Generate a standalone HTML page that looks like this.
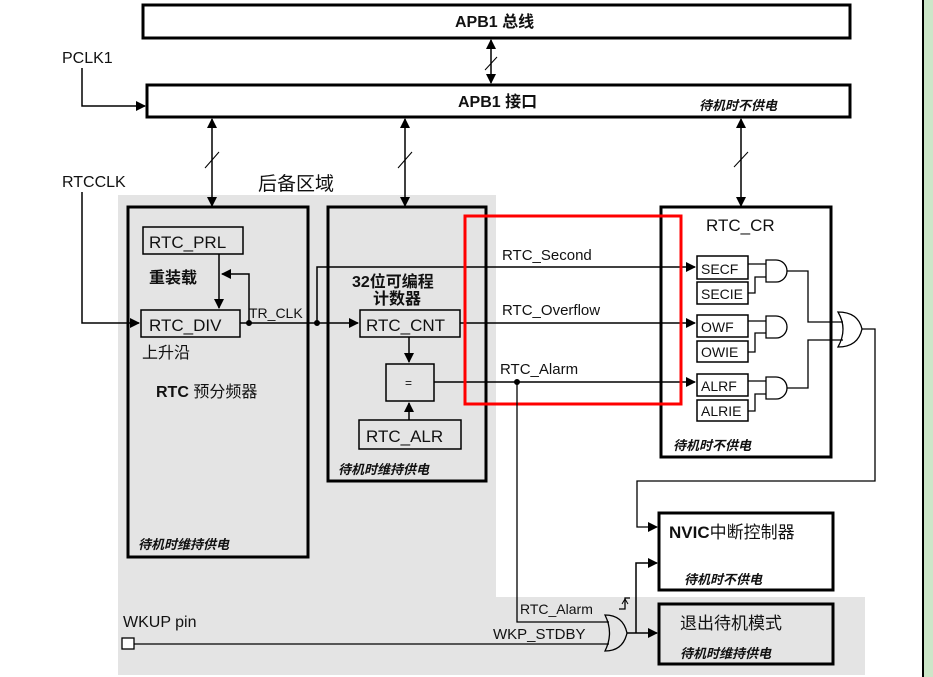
<!DOCTYPE html>
<html><head><meta charset="utf-8"><style>
html,body{margin:0;padding:0;background:#fff;}
svg{display:block;}
text{font-family:"Liberation Sans","Noto Sans CJK SC",sans-serif;fill:#111;}
.it{font-style:italic;font-weight:bold;font-size:13px;}
</style></head><body>
<svg width="933" height="677" viewBox="0 0 933 677" xmlns="http://www.w3.org/2000/svg">
<defs>
<marker id="a" markerWidth="10" markerHeight="10" refX="9" refY="5" orient="auto-start-reverse" markerUnits="userSpaceOnUse"><path d="M0,0 L10,5 L0,10 z" fill="#000"/></marker>
</defs>
<path d="M118,195 H496 V597 H865 V675 H118 Z" fill="#e4e4e4"/>
<rect x="924" y="0" width="9" height="677" fill="#cce6c8"/>
<line x1="923" y1="0" x2="923" y2="677" stroke="#000" stroke-width="2"/>

<g fill="none" stroke="#000">
<rect x="143" y="5" width="707" height="33" fill="#fff" stroke-width="3"/>
<rect x="147" y="85" width="703" height="32" fill="#fff" stroke-width="3"/>
<line x1="491" y1="40" x2="491" y2="83" stroke-width="1.5" marker-start="url(#a)" marker-end="url(#a)"/>
<line x1="485" y1="70" x2="497" y2="57"/>
<path d="M82,68 V106 H145" stroke-width="1.5" marker-end="url(#a)"/>
<line x1="212" y1="119" x2="212" y2="206" stroke-width="1.5" marker-start="url(#a)" marker-end="url(#a)"/>
<line x1="205" y1="168" x2="219" y2="152"/>
<line x1="405" y1="119" x2="405" y2="206" stroke-width="1.5" marker-start="url(#a)" marker-end="url(#a)"/>
<line x1="398" y1="168" x2="412" y2="152"/>
<line x1="741" y1="119" x2="741" y2="206" stroke-width="1.5" marker-start="url(#a)" marker-end="url(#a)"/>
<line x1="734" y1="167" x2="748" y2="152"/>
<rect x="128" y="207" width="180" height="350" stroke-width="3"/>
<rect x="143" y="227" width="100" height="27" stroke-width="1.5"/>
<rect x="141" y="310" width="99" height="27" stroke-width="1.5"/>
<path d="M82,192 V323 H139" stroke-width="1.5" marker-end="url(#a)"/>
<line x1="219" y1="254" x2="219" y2="308" stroke-width="1.5" marker-end="url(#a)"/>
<path d="M249,323 V274 H222" stroke-width="1.5" marker-end="url(#a)"/>
<rect x="328" y="207" width="158" height="274" stroke-width="3"/>
<rect x="360" y="310" width="100" height="27" stroke-width="1.5"/>
<rect x="386" y="364" width="48" height="37" stroke-width="1.5"/>
<rect x="359" y="420" width="102" height="29" stroke-width="1.5"/>
<line x1="240" y1="323" x2="358" y2="323" stroke-width="1.5" marker-end="url(#a)"/>
<path d="M317,323 V267 H695" stroke-width="1.5" marker-end="url(#a)"/>
<line x1="460" y1="323" x2="695" y2="323" stroke-width="1.5" marker-end="url(#a)"/>
<line x1="434" y1="382" x2="695" y2="382" stroke-width="1.5" marker-end="url(#a)"/>
<line x1="409" y1="337" x2="409" y2="362" stroke-width="1.5" marker-end="url(#a)"/>
<line x1="409" y1="420" x2="409" y2="403" stroke-width="1.5" marker-end="url(#a)"/>
<rect x="661" y="207" width="170" height="250" stroke-width="3"/>
<rect x="697" y="256" width="51" height="23" stroke-width="1.5"/>
<rect x="697" y="282" width="51" height="22" stroke-width="1.5"/>
<rect x="697" y="315" width="51" height="22" stroke-width="1.5"/>
<rect x="697" y="341" width="51" height="21" stroke-width="1.5"/>
<rect x="697" y="374" width="51" height="22" stroke-width="1.5"/>
<rect x="697" y="400" width="51" height="21" stroke-width="1.5"/>
<g stroke-width="1.3">
<path d="M766,260 H776 A11,11 0 0 1 776,282 H766 Z"/>
<path d="M766,316 H776 A11,11 0 0 1 776,338 H766 Z"/>
<path d="M766,377 H776 A11,11 0 0 1 776,399 H766 Z"/>
<path d="M748,264 H766 M748,293 H755 V277 H766"/>
<path d="M748,321 H766 M748,352 H755 V333 H766"/>
<path d="M748,381 H766 M748,411 H755 V394 H766"/>
<path d="M787,271 H808 V322 H843 M787,388 H808 V340 H843"/>
<path d="M838,312 Q858,312 862,329 Q858,347 838,347 Q848,329 838,312 Z"/>
<path d="M862,329 H875 V481 H637 V527 H657" marker-end="url(#a)"/>
</g>
<rect x="465" y="216" width="216" height="188" stroke="#f00" stroke-width="3"/>
<rect x="659" y="513" width="174" height="77" fill="#fff" stroke-width="3"/>
<rect x="659" y="604" width="174" height="60" fill="#e4e4e4" stroke-width="3"/>
<circle cx="517" cy="382" r="2.5" fill="#000"/>
<circle cx="249" cy="323" r="2.5" fill="#000"/>
<circle cx="317" cy="323" r="2.5" fill="#000"/>
<path d="M517,382 V622 H609" stroke-width="1.3"/>
<rect x="122" y="638" width="12" height="11" stroke-width="1.3" fill="#fff"/>
<path d="M134,644 H609" stroke-width="1.3"/>
<path d="M605,615 Q623,615 627,633 Q623,651 605,651 Q614,633 605,615 Z" stroke-width="1.3"/>
<path d="M627,633 H657" stroke-width="1.5" marker-end="url(#a)"/>
<path d="M636,633 V563 H657" stroke-width="1.5" marker-end="url(#a)"/>
<path d="M619,609 H625 V598 H630" stroke-width="1.3"/>
<path d="M622,604 L625,599 L628,604" stroke-width="1"/>
</g>

<g>
<text x="455" y="27" font-size="16" font-weight="bold">APB1 总线</text>
<text x="458" y="107" font-size="16" font-weight="bold">APB1 接口</text>
<text x="699" y="110" class="it">待机时不供电</text>
<text x="62" y="63" font-size="16">PCLK1</text>
<text x="62" y="187" font-size="16">RTCCLK</text>
<text x="258" y="190" font-size="19">后备区域</text>
<text x="149" y="248" font-size="17">RTC_PRL</text>
<text x="149" y="283" font-size="16" font-weight="bold">重装载</text>
<text x="149" y="331" font-size="17">RTC_DIV</text>
<text x="142" y="358" font-size="16">上升沿</text>
<text x="249" y="318" font-size="14">TR_CLK</text>
<text x="156" y="397" font-size="16" font-weight="bold">RTC<tspan font-weight="normal"> 预分频器</tspan></text>
<text x="138" y="549" class="it">待机时维持供电</text>
<text x="352" y="287" font-size="16" font-weight="bold">32位可编程</text>
<text x="373" y="304" font-size="16" font-weight="bold">计数器</text>
<text x="366" y="331" font-size="17">RTC_CNT</text>
<text x="405" y="387" font-size="12">=</text>
<text x="366" y="442" font-size="17">RTC_ALR</text>
<text x="338" y="474" class="it">待机时维持供电</text>
<text x="502" y="260" font-size="15">RTC_Second</text>
<text x="502" y="315" font-size="15">RTC_Overflow</text>
<text x="500" y="374" font-size="15">RTC_Alarm</text>
<text x="706" y="231" font-size="17">RTC_CR</text>
<text x="701" y="274" font-size="14">SECF</text>
<text x="701" y="299" font-size="14">SECIE</text>
<text x="701" y="332" font-size="14">OWF</text>
<text x="701" y="357" font-size="14">OWIE</text>
<text x="701" y="391" font-size="14">ALRF</text>
<text x="701" y="416" font-size="14">ALRIE</text>
<text x="673" y="450" class="it">待机时不供电</text>
<text x="669" y="538" font-size="17" font-weight="bold">NVIC<tspan font-weight="normal">中断控制器</tspan></text>
<text x="684" y="584" class="it">待机时不供电</text>
<text x="680" y="629" font-size="17">退出待机模式</text>
<text x="680" y="658" class="it">待机时维持供电</text>
<text x="123" y="627" font-size="16">WKUP pin</text>
<text x="520" y="614" font-size="14">RTC_Alarm</text>
<text x="493" y="639" font-size="15">WKP_STDBY</text>
</g>
</svg>
</body></html>
